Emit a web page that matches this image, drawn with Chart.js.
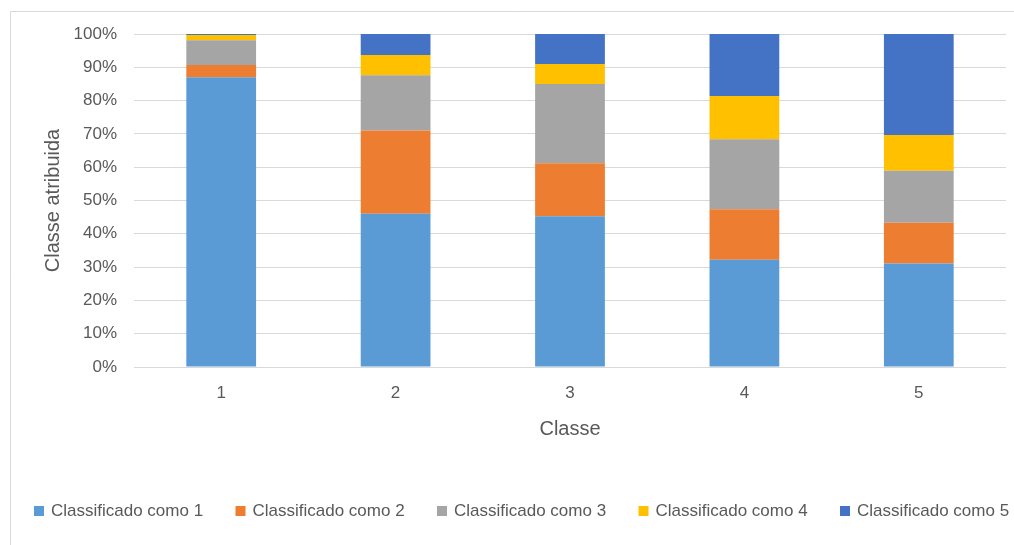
<!DOCTYPE html>
<html>
<head>
<meta charset="utf-8">
<script src="https://cdn.jsdelivr.net/npm/chart.js@4/dist/chart.umd.min.js"></script>
<style>
  html, body { margin: 0; padding: 0; background: #fff; }
  #c { display: block; }
</style>
</head>
<body>
<canvas id="c" width="1014" height="545"></canvas>
<script>
const categories = ['1', '2', '3', '4', '5'];
const seriesNames = ['Classificado como 1', 'Classificado como 2', 'Classificado como 3', 'Classificado como 4', 'Classificado como 5'];
const como1 = [87.0, 46.0, 45.3, 32.2, 31.1];
const como2 = [3.7, 25.0, 15.9, 15.2, 12.2];
const como3 = [7.4, 16.6, 23.8, 21.0, 15.6];
const como4 = [1.6, 6.1, 6.0, 13.0, 10.8];
const como5 = [0.3, 6.3, 9.0, 18.6, 30.3];
const yTicks = [0, 10, 20, 30, 40, 50, 60, 70, 80, 90, 100];

const seriesValues = [como1, como2, como3, como4, como5];
const colors = ['#5B9BD5', '#ED7D31', '#A5A5A5', '#FFC000', '#4472C4'];
const textColor = '#595959';
const fontFamily = '"Liberation Sans", Arial, sans-serif';

const borderPlugin = {
  id: 'frame',
  beforeDraw(chart) {
    const ctx = chart.ctx;
    ctx.save();
    ctx.fillStyle = '#ffffff';
    ctx.fillRect(0, 0, chart.width, chart.height);
    ctx.strokeStyle = '#d9d9d9';
    ctx.lineWidth = 1;
    ctx.beginPath();
    ctx.moveTo(10.5, chart.height);
    ctx.lineTo(10.5, 11.5);
    ctx.lineTo(chart.width, 11.5);
    ctx.stroke();
    ctx.restore();
  }
};

const legendPlugin = {
  id: 'customLegend',
  afterDraw(chart) {
    const ctx = chart.ctx;
    ctx.save();
    ctx.font = '17px ' + fontFamily;
    ctx.textBaseline = 'middle';
    ctx.textAlign = 'left';
    const y = 511;
    chart.data.datasets.forEach((ds, i) => {
      const x = 34 + i * 201.5;
      ctx.fillStyle = ds.backgroundColor;
      ctx.fillRect(x, y - 5, 10, 10);
      ctx.fillStyle = textColor;
      ctx.fillText(ds.label, x + 17, y);
    });
    ctx.restore();
  }
};

new Chart(document.getElementById('c'), {
  type: 'bar',
  data: {
    labels: categories,
    datasets: seriesNames.map((name, i) => ({
      label: name,
      data: seriesValues[i],
      backgroundColor: colors[i],
      borderWidth: 0,
      barPercentage: 0.4,
      categoryPercentage: 1.0
    }))
  },
  options: {
    responsive: false,
    animation: false,
    devicePixelRatio: 1,
    layout: { padding: { left: 0, right: 8, top: 34, bottom: 80 } },
    plugins: {
      legend: { display: false },
      tooltip: { enabled: false }
    },
    scales: {
      x: {
        stacked: true,
        grid: { display: false, drawTicks: false },
        border: { display: false },
        ticks: { color: textColor, font: { family: fontFamily, size: 17 }, padding: 16 },
        title: { display: true, text: 'Classe', color: textColor, font: { family: fontFamily, size: 20 }, padding: { top: 0, bottom: 24 } },
        afterFit(scale) { scale.height = 98; }
      },
      y: {
        stacked: true,
        min: 0,
        max: 100,
        afterBuildTicks(scale) { scale.ticks = yTicks.map(v => ({ value: v })); },
        grid: { color: '#d9d9d9', lineWidth: 1, drawTicks: false },
        border: { display: false },
        ticks: { color: textColor, font: { family: fontFamily, size: 17 }, padding: 17, callback: v => v + '%' },
        title: { display: true, text: 'Classe atribuida', color: textColor, font: { family: fontFamily, size: 20 }, padding: { top: 41, bottom: 0 } },
        afterFit(scale) { scale.width = 134; }
      }
    }
  },
  plugins: [borderPlugin, legendPlugin]
});
</script>
</body>
</html>
